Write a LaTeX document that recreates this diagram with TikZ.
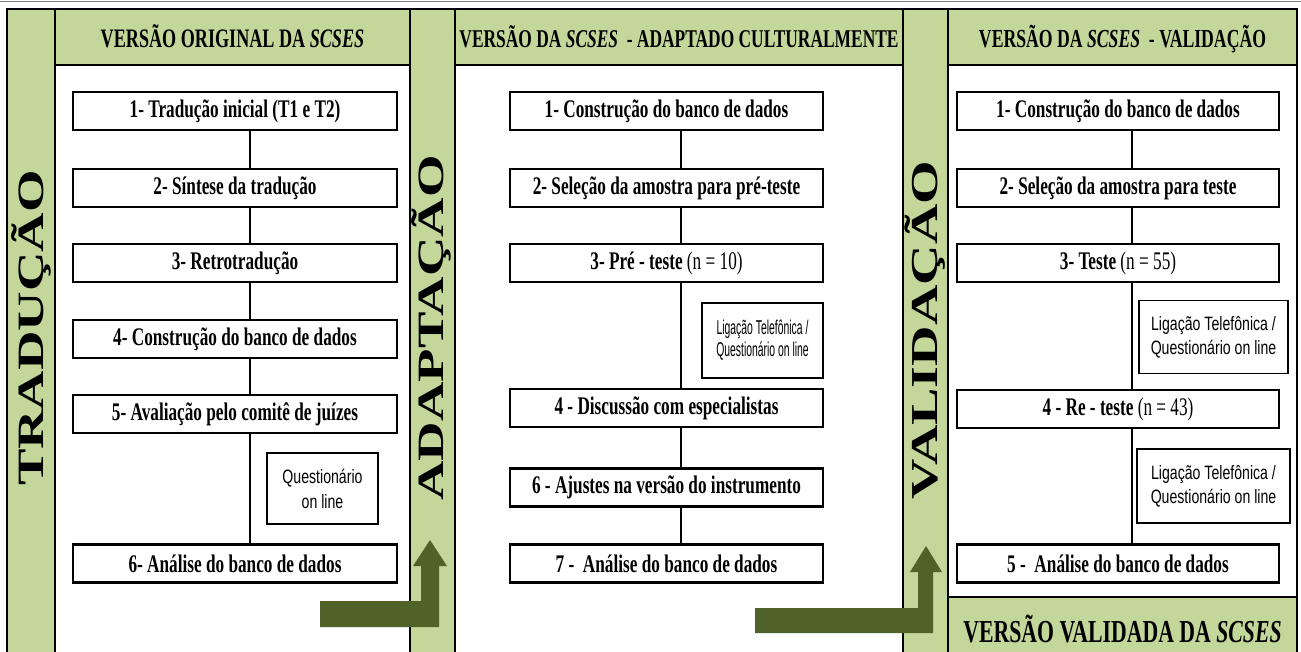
\documentclass[tikz,border=0pt]{standalone}
\usepackage{fontspec}
\setmainfont{Liberation Serif}
\newfontfamily\boxfont[FakeStretch=0.68]{Liberation Serif}
\newfontfamily\notefont[FakeStretch=0.52]{Liberation Sans}
\newfontfamily\wnotefont[FakeStretch=0.73]{Liberation Sans}
\definecolor{stripgreen}{RGB}{196,215,155}
\definecolor{arrowgreen}{RGB}{79,98,40}
\begin{document}
\begin{tikzpicture}[x=0.75pt,y=-0.75pt,
  frame/.style={draw=black,line width=2pt},
  stepbox/.style={draw=black,line width=2pt,fill=white,inner sep=0pt,minimum height=28.5pt,font=\boxfont\bfseries\fontsize{19}{22}\selectfont},
  lbox/.style={stepbox,minimum width=243pt},
  mbox/.style={stepbox,minimum width=234.75pt},
  rbox/.style={stepbox,minimum width=241.5pt},
  note/.style={draw=black,line width=1pt,fill=white,align=center,inner sep=0pt,font=\notefont\fontsize{15}{16.5}\selectfont},
  wnote/.style={note,font=\wnotefont\fontsize{14.5}{18}\selectfont},
  conn/.style={draw=black,line width=1.5pt},
  headtext/.style={anchor=base,font=\boxfont\bfseries},
  sidetext/.style={rotate=90,inner sep=0pt},
  bigarrow/.style={fill=arrowgreen}
]
\useasboundingbox (0,0) rectangle (1301,652);
\draw[gray,line width=1.2pt] (0,1.5) -- (1301,1.5);
% side strips
\draw[frame,fill=stripgreen] (7,9) rectangle (55,662);
\draw[frame,fill=stripgreen] (410,9) rectangle (455,662);
\draw[frame,fill=stripgreen] (903,9) rectangle (948,662);
% headers
\draw[frame,fill=stripgreen] (55,9) rectangle (410,65);
\draw[frame,fill=stripgreen] (455,9) rectangle (903,65);
\draw[frame,fill=stripgreen] (948,9) rectangle (1297,65);
% panels
\draw[frame,fill=white] (55,65) rectangle (410,662);
\draw[frame,fill=white] (455,65) rectangle (903,662);
\draw[frame,fill=white] (948,65) rectangle (1297,597);
\draw[frame,fill=stripgreen] (948,597) rectangle (1297,662);
% header texts
\node[headtext] (hL) at (232.5,48) {\fontsize{20}{24}\selectfont VERSÃO ORIGINAL DA \textit{SCSES}};
\node[headtext] (hM) at (679,48) {\fontsize{19.2}{24}\selectfont VERSÃO DA \textit{SCSES}\ \ - ADAPTADO CULTURALMENTE};
\node[headtext] (hR) at (1122.5,48) {\fontsize{19.5}{24}\selectfont VERSÃO DA \textit{SCSES}\ \ - VALIDAÇÃO};
\node[headtext] (hV) at (1122.5,642) {\fontsize{24}{28}\selectfont VERSÃO VALIDADA DA \textit{SCSES}};
% side texts
\node[sidetext] (tT) at (31,328) {\scalebox{1}[0.68]{\fontsize{41}{41}\selectfont\bfseries TRADUÇÃO}};
\node[sidetext] (tA) at (431,328) {\scalebox{1}[0.68]{\fontsize{41}{41}\selectfont\bfseries ADAPTAÇÃO}};
\node[sidetext] (tV) at (925.5,330) {\scalebox{1}[0.68]{\fontsize{42}{42}\selectfont\bfseries VALIDAÇÃO}};
% connector x positions
\coordinate (xL) at (250,0);
\coordinate (xM) at (681,0);
\coordinate (xR) at (1132,0);
% left column
\node[lbox] (L1) at (235,111) {1- Tradução inicial (T1 e T2)};
\node[lbox] (L2) at (235,188) {2- Síntese da tradução};
\node[lbox] (L3) at (235,263) {3- Retrotradução};
\node[lbox] (L4) at (235,339) {4- Construção do banco de dados};
\node[lbox] (L5) at (235,414) {5- Avaliação pelo comitê de juízes};
\node[lbox] (L6) at (235,563.5) {6- Análise do banco de dados};
\draw[conn] (L1.south -| xL) -- (L2.north -| xL);
\draw[conn] (L2.south -| xL) -- (L3.north -| xL);
\draw[conn] (L3.south -| xL) -- (L4.north -| xL);
\draw[conn] (L4.south -| xL) -- (L5.north -| xL);
\draw[conn] (L5.south -| xL) -- (L6.north -| xL);
\node[wnote,minimum width=83.25pt,minimum height=53.25pt,font=\wnotefont\fontsize{14.5}{18.75}\selectfont] (nL) at (322.5,488.5) {Questionário\\on line};
% middle column
\node[mbox] (M1) at (666.5,111) {1- Construção do banco de dados};
\node[mbox] (M2) at (666.5,188) {2- Seleção da amostra para pré-teste};
\node[mbox] (M3) at (666.5,263) {3- Pré - teste \textmd{(n = 10)}};
\node[mbox] (M4) at (666.5,408) {4 - Discussão com especialistas};
\node[mbox] (M6) at (666.5,487.5) {6 - Ajustes na versão do instrumento};
\node[mbox] (M7) at (666.5,563.5) {7 -\ \ Análise do banco de dados};
\draw[conn] (M1.south -| xM) -- (M2.north -| xM);
\draw[conn] (M2.south -| xM) -- (M3.north -| xM);
\draw[conn] (M3.south -| xM) -- (M4.north -| xM);
\draw[conn] (M4.south -| xM) -- (M6.north -| xM);
\draw[conn] (M6.south -| xM) -- (M7.north -| xM);
\node[note,minimum width=90.75pt,minimum height=56.25pt] (nM) at (762.5,340.5) {Ligação Telefônica /\\Questionário on line};
% right column
\node[rbox] (R1) at (1118,111) {1- Construção do banco de dados};
\node[rbox] (R2) at (1118,188) {2- Seleção da amostra para teste};
\node[rbox] (R3) at (1118,263) {3- Teste \textmd{(n = 55)}};
\node[rbox] (R4) at (1118,409) {4 - Re - teste \textmd{(n = 43)}};
\node[rbox] (R5) at (1118,563.5) {5 -\ \ Análise do banco de dados};
\draw[conn] (R1.south -| xR) -- (R2.north -| xR);
\draw[conn] (R2.south -| xR) -- (R3.north -| xR);
\draw[conn] (R3.south -| xR) -- (R4.north -| xR);
\draw[conn] (R4.south -| xR) -- (R5.north -| xR);
\node[wnote,minimum width=111.75pt,minimum height=54.75pt] (nR1) at (1213.5,337) {Ligação Telefônica /\\Questionário on line};
\node[wnote,minimum width=114.75pt,minimum height=55.5pt] (nR2) at (1213.5,486) {Ligação Telefônica /\\Questionário on line};
% big bent arrows
\fill[bigarrow] (320,601) -- (421,601) -- (421,566) -- (413,566) -- (430,540) -- (447,566) -- (439,566) -- (439,627) -- (320,627) -- cycle;
\fill[bigarrow] (755,608) -- (918,608) -- (918,572) -- (910,572) -- (926,546) -- (942,572) -- (933,572) -- (933,633) -- (755,633) -- cycle;
\end{tikzpicture}
\end{document}
